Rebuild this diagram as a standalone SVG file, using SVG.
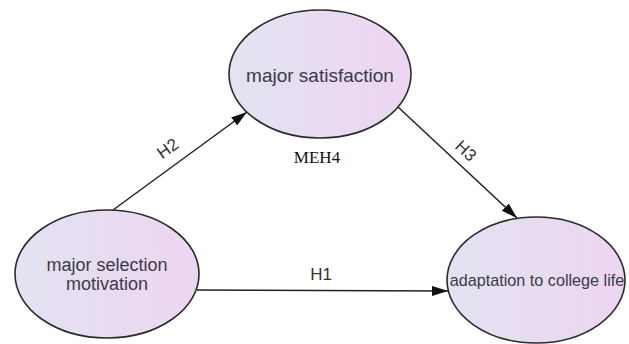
<svg xmlns="http://www.w3.org/2000/svg" width="629" height="344" viewBox="0 0 629 344">
<defs>
<linearGradient id="fill" x1="0" y1="0" x2="1" y2="0">
<stop offset="0" stop-color="#e3e3f1"/>
<stop offset="1" stop-color="#edd5f1"/>
</linearGradient>
<marker id="arr" viewBox="0 0 16 10" refX="16" refY="5" markerWidth="16" markerHeight="10" markerUnits="userSpaceOnUse" orient="auto">
<path d="M0,0 L16,5 L0,10 Z" fill="#111"/>
</marker>
<style>
.node ellipse{fill:url(#fill);stroke:#2a2a2a;stroke-width:1.6}
.lbl{font-family:"Liberation Sans",Arial,sans-serif;fill:#3a3a48;text-anchor:middle}
.edge{stroke:#222;stroke-width:1.5;fill:none;marker-end:url(#arr)}
.el{font-family:"Liberation Sans",Arial,sans-serif;font-size:17px;fill:#333;text-anchor:middle}
</style>
</defs>
<rect width="629" height="344" fill="#fff"/>
<g id="connectors">
<line class="edge" x1="113" y1="210" x2="247" y2="112"/>
<line class="edge" x1="398" y1="107" x2="517" y2="218"/>
<line class="edge" x1="197" y1="290" x2="448" y2="291"/>
<text class="el" transform="translate(171,153) rotate(-36)">H2</text>
<text class="el" transform="translate(462,155) rotate(43)">H3</text>
<text class="el" x="321" y="280">H1</text>
</g>
<g id="major-satisfaction" class="node">
<ellipse cx="320" cy="74" rx="91" ry="64"/>
<text class="lbl" x="320" y="82" font-size="19">major satisfaction</text>
</g>
<g id="major-selection-motivation" class="node">
<ellipse cx="107" cy="274" rx="92" ry="64"/>
<text class="lbl" x="107" y="271" font-size="18">major selection</text>
<text class="lbl" x="107" y="290" font-size="18">motivation</text>
</g>
<g id="adaptation-to-college-life" class="node">
<ellipse cx="536" cy="280" rx="89" ry="63"/>
<text class="lbl" x="537" y="286" font-size="16.2">adaptation to college life</text>
</g>
<text x="317" y="163" font-family="Liberation Serif,'Times New Roman',serif" font-size="17" fill="#111" text-anchor="middle">MEH4</text>
</svg>
